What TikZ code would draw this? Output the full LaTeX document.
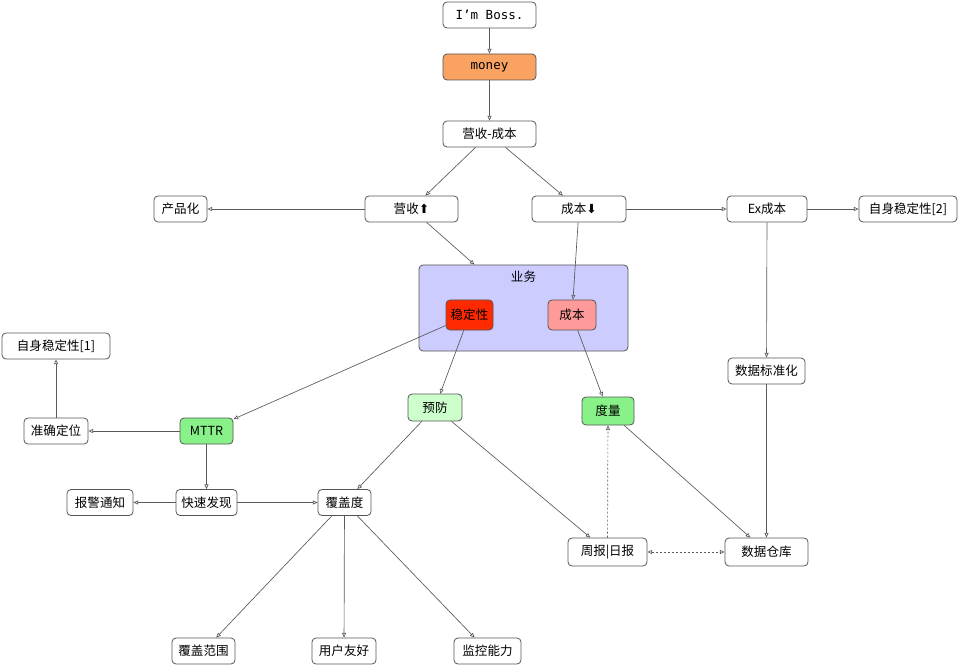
\documentclass[tikz,border=0pt]{standalone}
\usepackage{fontspec}
\setmainfont{Noto Sans CJK SC}
\setmonofont{DejaVu Sans Mono}
\newfontfamily\symfont{DejaVu Sans}
\usetikzlibrary{arrows.meta}
\definecolor{edgec}{HTML}{5A5A5A}
\definecolor{bordc}{HTML}{555555}
\definecolor{moneyc}{HTML}{F9A262}
\definecolor{stabc}{HTML}{FF2A00}
\definecolor{costc}{HTML}{FF9A9A}
\definecolor{prevc}{HTML}{CCFFCC}
\definecolor{measc}{HTML}{88F288}
\definecolor{bizc}{HTML}{CCCCFF}
\tikzset{
  box/.style={draw=bordc, line width=0.6pt, rounded corners=3pt, fill=white,
    minimum height=19.5pt, inner sep=0pt, font=\fontsize{9.4}{11}\selectfont},
  wd/.style={minimum width=#1*0.75pt},
  ht/.style={minimum height=#1*0.75pt},
  conn/.style={draw=edgec, line width=0.5pt, -{Triangle[open,length=3.5pt,width=3pt]}},
  dconn/.style={conn, dash pattern=on 1.5pt off 1.5pt},
}
\begin{document}
\begin{tikzpicture}[x=0.75pt,y=-0.75pt]
\useasboundingbox (0,0) rectangle (959,666);
% container
\node[box, fill=bizc, draw=bordc, wd=209, ht=86] (biz) at (523.5,308) {};
\node[font=\fontsize{9.4}{11}\selectfont, inner sep=0pt] (bizl) at (523.5,277) {业务};
% nodes
\node[box, wd=93] (boss) at (489.5,15) {\ttfamily I’m Boss.};
\node[box, wd=93, fill=moneyc] (money) at (489.5,67) {\ttfamily money};
\node[box, wd=93] (rc) at (489.5,134) {营收-成本};
\node[box, wd=93] (rev) at (411.5,209) {营收{\symfont ⬆}};
\node[box, wd=94] (cost) at (579,209) {成本{\symfont ⬇}};
\node[box, wd=53] (prod) at (180.5,209) {产品化};
\node[box, wd=80] (excost) at (767,209) {Ex成本};
\node[box, wd=98] (self2) at (908,209) {自身稳定性[2]};
\node[box, wd=47, ht=30, fill=stabc] (stab) at (469.5,315) {稳定性};
\node[box, wd=48, ht=30, fill=costc] (icost) at (572,315) {成本};
\node[box, wd=54, ht=27, fill=prevc] (prev) at (435,407.5) {预防};
\node[box, wd=52, ht=28, fill=measc] (meas) at (608,411) {度量};
\node[box, wd=77] (std) at (766.5,371) {数据标准化};
\node[box, wd=79, ht=28] (week) at (607.5,552) {周报|日报};
\node[box, wd=83, ht=28] (dw) at (766.5,552) {数据仓库};
\node[box, wd=108] (self1) at (56,346) {自身稳定性[1]};
\node[box, wd=64] (loc) at (56,431) {准确定位};
\node[box, wd=53, fill=measc] (mttr) at (206.5,431) {MTTR};
\node[box, wd=66] (alarm) at (100,502.5) {报警通知};
\node[box, wd=61] (fast) at (206.5,502.5) {快速发现};
\node[box, wd=53] (cover) at (344.5,502.5) {覆盖度};
\node[box, wd=63] (range) at (203.5,651) {覆盖范围};
\node[box, wd=64] (user) at (344,651) {用户友好};
\node[box, wd=67] (mon) at (487.5,651) {监控能力};
% connectors
\draw[conn] (boss) -- (money);
\draw[conn] (money) -- (rc);
\draw[conn] (rc) -- (rev);
\draw[conn] (rc) -- (cost);
\draw[conn] (rev) -- (prod);
\draw[conn] (rev) -- (biz);
\draw[conn] (cost) -- (icost);
\draw[conn] (cost) -- (excost);
\draw[conn] (excost) -- (self2);
\draw[conn] (excost) -- (std);
\draw[conn] (std) -- (dw);
\draw[conn] (stab) -- (mttr);
\draw[conn] (stab) -- (prev);
\draw[conn] (icost) -- (meas);
\draw[conn] (mttr) -- (loc);
\draw[conn] (loc) -- (self1);
\draw[conn] (mttr) -- (fast);
\draw[conn] (fast) -- (alarm);
\draw[conn] (fast) -- (cover);
\draw[conn] (prev) -- (cover);
\draw[conn] (prev) -- (week);
\draw[conn] (meas) -- (dw);
\draw[dconn] (week) -- (meas);
\draw[dconn, {Triangle[open,length=3.5pt,width=3pt]}-{Triangle[open,length=3.5pt,width=3pt]}] (week) -- (dw);
\draw[conn] (cover) -- (range);
\draw[conn] (cover) -- (user);
\draw[conn] (cover) -- (mon);
\end{tikzpicture}
\end{document}
